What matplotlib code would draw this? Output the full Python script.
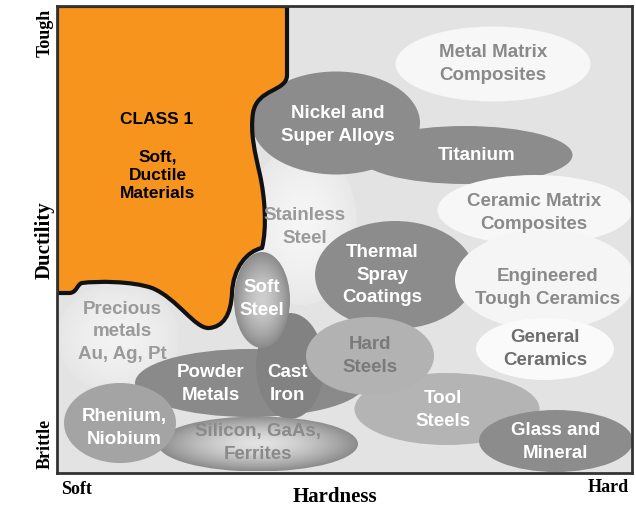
import numpy as np
import matplotlib
matplotlib.use("Agg")
import matplotlib.pyplot as plt
from matplotlib.patches import Ellipse, PathPatch
from matplotlib.path import Path
from matplotlib.colors import to_rgb

# ---- data (hardness index on x, ductility index on y) ----
names = ["Stainless Steel", "Precious metals", "Metal Matrix Composites", "Titanium",
         "Nickel and Super Alloys", "Ceramic Matrix Composites", "Thermal Spray Coatings",
         "Engineered Tough Ceramics", "General Ceramics", "Powder Metals", "Cast Iron",
         "Tool Steels", "Hard Steels", "Glass and Mineral", "Silicon, GaAs, Ferrites",
         "Rhenium, Niobium", "Soft Steel"]
hard_c = [245, 61, 436, 408, 279, 478, 338, 488, 488, 193, 233, 390, 313, 499, 201, 63, 205]
duct_c = [248, 135, 409, 318, 350, 263, 198, 193, 124, 90, 107, 64, 117, 32, 29, 50, 173]
hard_w = [110, 122, 195, 215, 168, 195, 160, 180, 138, 230, 68, 185, 128, 154, 200, 112, 56]
duct_h = [160, 110, 75, 58, 103, 70, 108, 100, 62, 68, 106, 72, 78, 62, 55, 80, 96]
fills = ["#efefef", "#ececec", "#f7f7f7", "#8c8c8c", "#8c8c8c", "#f7f7f7", "#8c8c8c",
         "#f5f5f5", "#fafafa", "#8a8a8a", "#828282", "#b4b4b4", "#b2b2b2", "#8c8c8c",
         "grad", "#a4a4a4", "grad"]
grad_inner = {"Silicon, GaAs, Ferrites": "#e2e2e2", "Soft Steel": "#cfcfcf",
              "Stainless Steel": "#f6f6f6", "Precious metals": "#f3f3f3"}
grad_outer = {"Silicon, GaAs, Ferrites": "#8c8c8c", "Soft Steel": "#8a8a8a",
              "Stainless Steel": "#e8e8e8", "Precious metals": "#e6e6e6"}

label_text = ["Stainless\nSteel", "Precious\nmetals\nAu, Ag, Pt", "Metal Matrix\nComposites",
              "Titanium", "Nickel and\nSuper Alloys", "Ceramic Matrix\nComposites",
              "Thermal\nSpray\nCoatings", "Engineered\nTough Ceramics", "General\nCeramics",
              "Powder\nMetals", "Cast\nIron", "Tool\nSteels", "Hard\nSteels",
              "Glass and\nMineral", "Silicon, GaAs,\nFerrites", "Rhenium,\nNiobium", "Soft\nSteel"]
label_x = [248, 65, 436, 420, 281, 477, 325, 491, 488, 154, 230, 386, 313, 499, 201, 67, 205]
label_y = [246, 141, 409, 317, 348, 260, 198, 185, 124, 89, 89, 63, 117, 31, 30, 45, 174]
label_col = ["#9a9a9a", "#9a9a9a", "#8a8a8a", "white", "white", "#8a8a8a", "white",
             "#8a8a8a", "#6e6e6e", "white", "white", "white", "#7a7a7a", "white",
             "#8a8a8a", "white", "white"]

# Class 1 region outline (hardness, ductility)
class_verts = [(0, 467), (230, 467), (230, 398),
               (230, 381), (200, 385), (196, 360),
               (193, 340), (198, 320), (203, 298),
               (208, 275), (210, 245), (205, 225),
               (190, 222), (176, 205), (175, 180),
               (174, 158), (166, 146), (152, 145),
               (138, 144), (120, 175), (95, 185),
               (75, 192), (40, 192), (25, 190),
               (20, 189), (20, 180), (12, 180),
               (0, 180), (0, 467)]
class_codes = ([Path.MOVETO, Path.LINETO, Path.LINETO] + [Path.CURVE4] * 24 +
               [Path.LINETO, Path.CLOSEPOLY])

X_MAX, Y_MAX = 575, 467

fig = plt.figure(figsize=(6.36, 5.08), dpi=100)
ax = fig.add_axes([57 / 636, 35 / 508, 575 / 636, 467 / 508])
ax.set_facecolor("#e3e3e3")
ax.set_xlim(0, X_MAX)
ax.set_ylim(0, Y_MAX)
ax.set_xticks([])
ax.set_yticks([])
for s in ax.spines.values():
    s.set_linewidth(2)
    s.set_color("#333333")
    s.set_zorder(50)


def grad_ellipse(cx, cy, w, h, cin, cout, z):
    e = Ellipse((cx, cy), w, h, facecolor="none", edgecolor="none", zorder=z)
    ax.add_patch(e)
    n = 200
    xs = np.linspace(-1, 1, n)
    gx, gy = np.meshgrid(xs, xs)
    r = np.clip(np.sqrt(gx ** 2 + gy ** 2), 0, 1) ** 1.6
    a = np.array(to_rgb(cin))
    b = np.array(to_rgb(cout))
    img = a[None, None, :] * (1 - r[..., None]) + b[None, None, :] * r[..., None]
    im = ax.imshow(img, extent=[cx - w / 2, cx + w / 2, cy - h / 2, cy + h / 2],
                   origin="lower", zorder=z, interpolation="bilinear")
    im.set_clip_path(e)


for i, nm in enumerate(names):
    z = 2 + i
    if nm == "Soft Steel":
        z = 40
    if nm in grad_inner:
        grad_ellipse(hard_c[i], duct_c[i], hard_w[i], duct_h[i],
                     grad_inner[nm], grad_outer[nm], z)
    else:
        ax.add_patch(Ellipse((hard_c[i], duct_c[i]), hard_w[i], duct_h[i],
                             facecolor=fills[i], edgecolor="none", zorder=z))

ax.add_patch(PathPatch(Path(class_verts, class_codes), facecolor="#f7941d",
                       edgecolor="#111111", lw=3, zorder=30, joinstyle="round"))

ax.set_aspect("auto")
ax.set_xlim(0, X_MAX)
ax.set_ylim(0, Y_MAX)

sans = "Liberation Sans"
for t, x, y, c in zip(label_text, label_x, label_y, label_col):
    ax.text(x, y, t, ha="center", va="center", color=c, fontsize=13.5,
            fontweight="bold", family=sans, linespacing=1.45, zorder=45)

ax.text(100, 353, "CLASS 1", ha="center", va="center", fontsize=12.5,
        fontweight="bold", family=sans, color="black", zorder=45)
ax.text(101, 298, "Soft,\nDuctile\nMaterials", ha="center", va="center", fontsize=12.5,
        fontweight="bold", family=sans, color="black", linespacing=1.25, zorder=45)

serif = "Liberation Serif"
fig.text(335 / 636, 1 - 497 / 508, "Hardness", ha="center", va="center",
         fontsize=15, fontweight="bold", family=serif)
fig.text(77 / 636, 1 - 489 / 508, "Soft", ha="center", va="center",
         fontsize=13, fontweight="bold", family=serif)
fig.text(608 / 636, 1 - 488 / 508, "Hard", ha="center", va="center",
         fontsize=13, fontweight="bold", family=serif)
fig.text(45 / 636, 1 - 240 / 508, "Ductility", ha="center", va="center",
         fontsize=15, fontweight="bold", family=serif, rotation=90)
fig.text(45 / 636, 1 - 33 / 508, "Tough", ha="center", va="center",
         fontsize=13, fontweight="bold", family=serif, rotation=90)
fig.text(45 / 636, 1 - 444 / 508, "Brittle", ha="center", va="center",
         fontsize=13, fontweight="bold", family=serif, rotation=90)

fig.savefig("out.png", dpi=100)
